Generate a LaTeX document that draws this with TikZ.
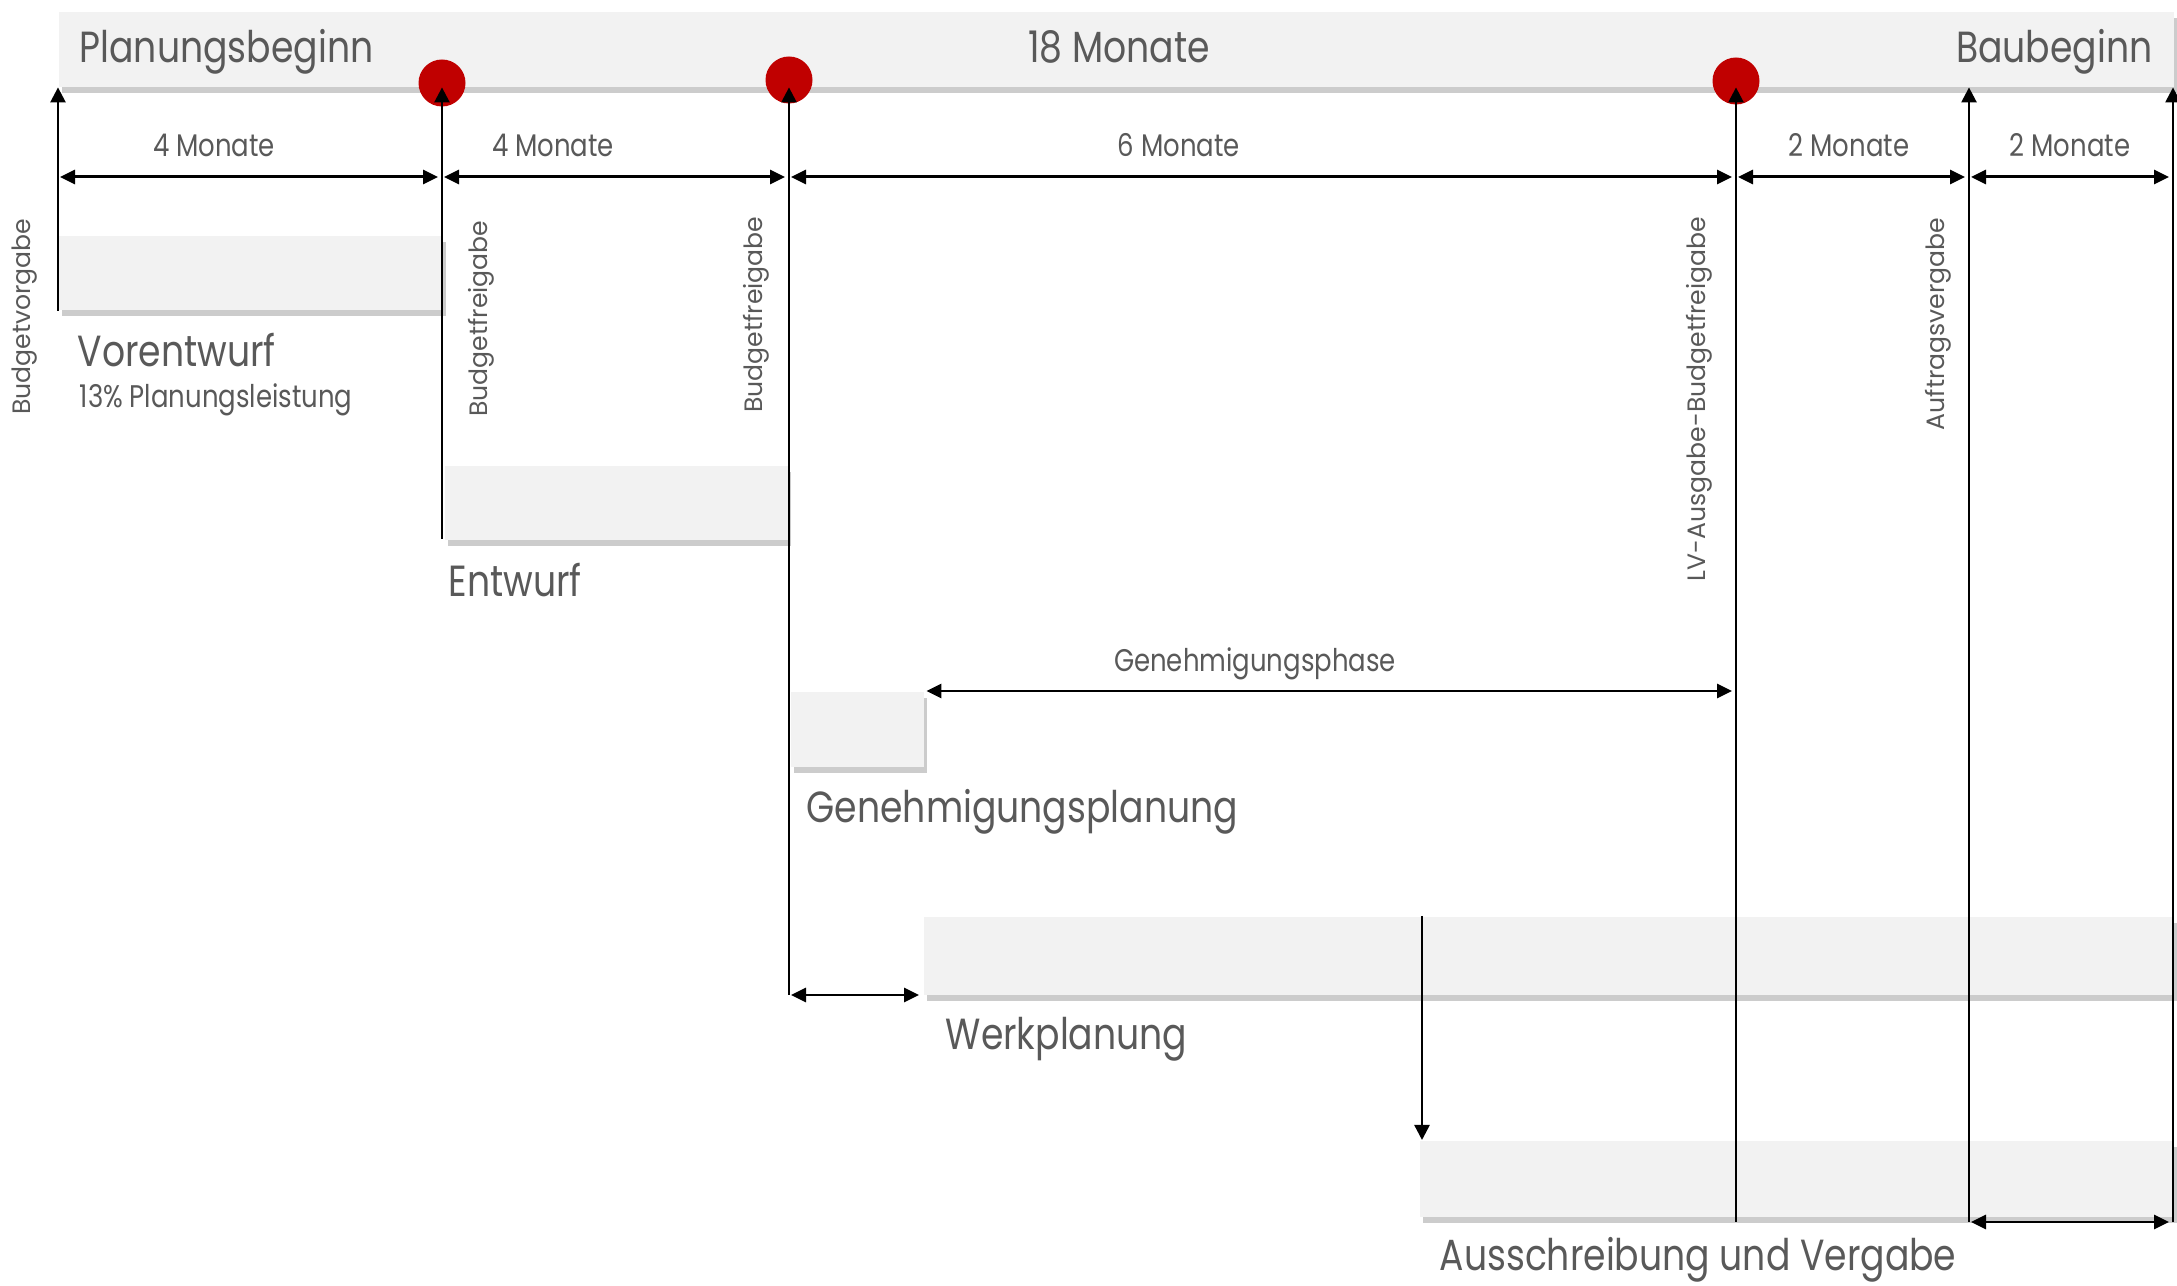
\documentclass[tikz,border=0pt]{standalone}
\usepackage{fontspec}
\setmainfont[FakeStretch=0.83]{Poppins}
\newfontfamily\sidefont{Poppins}
\usepackage{tikz}
\usetikzlibrary{arrows.meta,shadows}

\definecolor{bargray}{HTML}{F2F2F2}
\definecolor{textgray}{HTML}{595959}
\definecolor{milered}{HTML}{C00000}

\tikzset{
  phasebox/.style={fill=bargray, draw=none, anchor=north west, inner sep=0pt,
    drop shadow={shadow xshift=0.35mm, shadow yshift=-0.6mm, fill=black, opacity=0.2}},
  milestone/.style={circle, fill=milered, minimum size=4.7mm, inner sep=0pt},
  bigtext/.style={text=textgray, font=\fontsize{12.4}{14}\selectfont, inner sep=0pt},
  smalltext/.style={text=textgray, font=\fontsize{8.9}{10}\selectfont, inner sep=0pt},
  sidetext/.style={text=textgray, font=\sidefont\fontsize{7.15}{9}\selectfont,
    rotate=90, anchor=east, inner sep=0pt},
  tick/.style={draw=black, line width=0.7pt, -{Triangle[length=1.5mm,width=1.5mm]}},
  span/.style={draw=black, line width=0.85pt, shorten <=0.2mm, shorten >=0.4mm,
    {Triangle[length=1.5mm,width=1.4mm]}-{Triangle[length=1.5mm,width=1.4mm]}}
}

\begin{document}
\begin{tikzpicture}[x=1mm,y=-1mm]
  \useasboundingbox (0,0) rectangle (217.7,128.6);

  % phases
  \begin{scope}[every node/.style={phasebox}]
    \node[minimum width=211.5mm, minimum height=7.5mm] (bar) at (5.8,1.1) {};
    \node[minimum width=38.4mm, minimum height=7.4mm] (vorbox) at (5.8,23.5) {};
    \node[minimum width=34.3mm, minimum height=7.4mm] (entbox) at (44.4,46.5) {};
    \node[minimum width=13.3mm, minimum height=7.5mm] (genbox) at (79.0,69.1) {};
    \node[minimum width=125.0mm, minimum height=7.8mm] (werkbox) at (92.3,91.6) {};
    \node[minimum width=75.4mm, minimum height=7.6mm] (ausbox) at (141.9,114.0) {};
  \end{scope}

  % milestones
  \node[milestone] (m1) at (44.2,8.3) {};
  \node[milestone] (m2) at (78.9,8.0) {};
  \node[milestone] (m3) at (173.6,8.1) {};

  % texts
  \node[bigtext, anchor=base west] (start) at (7.9,6.3) {Planungsbeginn};
  \node[bigtext, anchor=base] (total) at (111.9,6.3) {18 Monate};
  \node[bigtext, anchor=base east] (ende) at (215.3,6.3) {Baubeginn};

  \node[bigtext, anchor=base west] (vortxt) at (7.7,36.7) {Vorentwurf};
  \node[smalltext, anchor=base west] (leistung) at (7.9,40.8) {13\% Planungsleistung};
  \node[bigtext, anchor=base west] (enttxt) at (44.8,59.7) {Entwurf};
  \node[bigtext, anchor=base west] (gentxt) at (80.6,82.3) {Genehmigungsplanung};
  \node[bigtext, anchor=base west] (werktxt) at (94.5,105.0) {Werkplanung};
  \node[bigtext, anchor=base west] (austxt) at (143.9,127.1) {Ausschreibung und Vergabe};

  \node[smalltext, anchor=base] (dur1) at (21.4,15.7) {4 Monate};
  \node[smalltext, anchor=base] (dur2) at (55.3,15.7) {4 Monate};
  \node[smalltext, anchor=base] (dur3) at (117.9,15.7) {6 Monate};
  \node[smalltext, anchor=base] (dur4) at (184.9,15.7) {2 Monate};
  \node[smalltext, anchor=base] (dur5) at (207.0,15.7) {2 Monate};
  \node[smalltext, anchor=base] (phase) at (125.5,67.2) {Genehmigungsphase};

  \node[sidetext] (vorgabetxt) at (2.5,21.8) {Budgetvorgabe};
  \node[sidetext] (frei1txt) at (48.1,22.0) {Budgetfreigabe};
  \node[sidetext] (frei2txt) at (75.6,21.6) {Budgetfreigabe};
  \node[sidetext] (lvtxt) at (169.9,21.6) {LV-Ausgabe-Budgetfreigabe};
  \node[sidetext] (auftragtxt) at (193.8,21.7) {Auftragsvergabe};

  % time lines
  \coordinate (vorgabe) at (5.8,31.1);
  \coordinate (frei1) at (44.2,53.9);
  \coordinate (frei2) at (78.9,99.5);
  \coordinate (lvfrei) at (173.6,122.2);
  \coordinate (auftrag) at (196.9,122.2);
  \coordinate (baustart) at (217.3,122.2);
  \coordinate (werkdrop) at (142.2,91.6);
  \coordinate (dimrow) at (0,17.7);

  \draw[tick] (vorgabe) -- (vorgabe |- bar.south);
  \draw[tick] (frei1) -- (frei1 |- bar.south);
  \draw[tick] (frei2) -- (frei2 |- bar.south);
  \draw[tick] (lvfrei) -- (lvfrei |- bar.south);
  \draw[tick] (auftrag) -- (auftrag |- bar.south);
  \draw[tick] (baustart) -- (baustart |- bar.south);
  \draw[tick] (werkdrop) -- (werkdrop |- ausbox.north);

  % durations
  \path (vorgabe |- dimrow) edge[span] (frei1 |- dimrow);
  \path (frei1 |- dimrow) edge[span] (frei2 |- dimrow);
  \path (frei2 |- dimrow) edge[span] (lvfrei |- dimrow);
  \path (lvfrei |- dimrow) edge[span] (auftrag |- dimrow);
  \path (auftrag |- dimrow) edge[span] (baustart |- dimrow);
  \path (genbox.north east) edge[span] (lvfrei |- genbox.north);
  \path (frei2) edge[span] (frei2 -| werkbox.west);
  \path (auftrag) edge[span] (baustart);
\end{tikzpicture}
\end{document}
